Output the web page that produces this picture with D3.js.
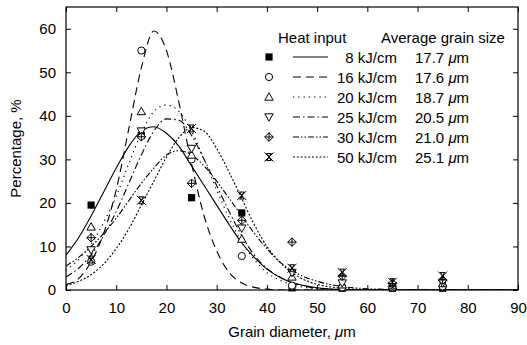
<!DOCTYPE html>
<html>
<head>
<meta charset="utf-8">
<script src="https://cdn.jsdelivr.net/npm/d3@7"></script>
<style>
  body { margin: 0; background: #fff; }
  svg { display: block; font-family: "Liberation Sans", Arial, sans-serif; }
  .axis path, .axis line { stroke: #000; }
  .axis text { font-size: 15px; fill: #000; font-family: "Liberation Sans", Arial, sans-serif; }
  .label { font-size: 15px; fill: #000; }
  .fit { fill: none; stroke: #000; stroke-width: 1.1; }
</style>
</head>
<body>
<svg id="chart" width="527" height="345"></svg>
<script>
// measured grain size distributions (%), by grain diameter class
var diameters = [5, 15, 25, 35, 45, 55, 65, 75];
var pct8  = [19.5, 35.5, 21.2, 17.7, 0.5, 0.4, 0.4, 0.4];
var pct16 = [6.5, 55.0, 30.0, 7.8, 1.0, 0.6, 0.6, 0.8];
var pct20 = [14.5, 41.0, 31.0, 11.7, 3.0, 1.2, 1.0, 1.5];
var pct25 = [9.2, 36.5, 32.5, 14.2, 4.0, 1.6, 1.0, 1.6];
var pct30 = [12.0, 35.2, 24.5, 16.0, 11.0, 3.2, 1.5, 2.3];
var pct50 = [7.0, 20.6, 37.1, 21.7, 5.0, 4.0, 1.8, 3.2];

// fitted curves at these diameters
var fitX   = [0, 2.5, 5, 7.5, 10, 12.5, 15, 17.5, 20, 22.5, 25, 27.5, 30, 32.5, 35, 37.5, 40, 42.5, 45, 47.5, 50, 55, 60, 70, 90];
var fit8   = [8, 12, 17, 22.5, 28, 33, 36.5, 37.5, 36, 33, 28.5, 24, 19.5, 15, 10.8, 7.5, 4.8, 3, 1.7, 1, 0.5, 0.1, 0, 0, 0];
var fit16  = [1.3, 2.6, 6.5, 13, 23, 37, 51, 59.5, 55, 43, 29, 17, 9, 4, 1.6, 0.6, 0.2, 0, 0, 0, 0, 0, 0, 0, 0];
var fit20  = [4.5, 7, 10.5, 15.5, 21.5, 29, 36, 41, 42.5, 41, 36.5, 30, 23, 16.5, 11, 7, 4, 2.3, 1.2, 0.6, 0.3, 0.1, 0, 0, 0];
var fit25  = [3, 5, 8, 12.5, 18, 24.5, 31, 36.5, 39.3, 39, 35.5, 30, 24, 18, 12.5, 8, 5, 3, 1.7, 0.9, 0.4, 0.1, 0, 0, 0];
var fit30  = [5.5, 7.5, 10, 13, 16.5, 20.5, 24.5, 28, 31, 32, 31, 28.5, 25, 21, 17, 13, 9.5, 6.5, 4.5, 3, 2, 0.8, 0.3, 0, 0];
var fit50  = [1, 2, 3.5, 6, 9.5, 14, 19.5, 25, 30.5, 35, 37.3, 36.5, 32.5, 27, 21, 15, 10, 6.5, 4, 2.3, 1.3, 0.4, 0.1, 0, 0];

var heatInputs = ["8 kJ/cm", "16 kJ/cm", "20 kJ/cm", "25 kJ/cm", "30 kJ/cm", "50 kJ/cm"];
var grainSizes = ["17.7", "17.6", "18.7", "20.5", "21.0", "25.1"];
var xTicks = [0, 10, 20, 30, 40, 50, 60, 70, 80, 90];
var yTicks = [0, 10, 20, 30, 40, 50, 60];

var series = [
  { pts: pct8,  fit: fit8,  mark: "square",   dash: null },
  { pts: pct16, fit: fit16, mark: "circle",   dash: "8,5" },
  { pts: pct20, fit: fit20, mark: "triUp",    dash: "1.3,4" },
  { pts: pct25, fit: fit25, mark: "triDown",  dash: "7,3,1.5,3" },
  { pts: pct30, fit: fit30, mark: "diamPlus", dash: "6,2,1.5,2,1.5,2" },
  { pts: pct50, fit: fit50, mark: "bowX",     dash: "2,1.8" }
];

var margin = { top: 7, right: 9, bottom: 55, left: 66 };
var svg = d3.select("#chart");
var width = 527 - margin.left - margin.right;
var height = 345 - margin.top - margin.bottom;
var g = svg.append("g").attr("transform", "translate(" + margin.left + "," + margin.top + ")");

var x = d3.scaleLinear().domain([0, 90]).range([0, width]);
var y = d3.scaleLinear().domain([0, 65]).range([height, 0]);

// axes, ticks inside on all four sides
g.append("g").attr("class", "axis")
  .attr("transform", "translate(0," + height + ")")
  .call(d3.axisBottom(x).tickValues(xTicks).tickSizeInner(-5).tickSizeOuter(0).tickPadding(12));
g.append("g").attr("class", "axis")
  .call(d3.axisTop(x).tickValues(xTicks).tickSizeInner(-5).tickSizeOuter(0).tickFormat(""));
g.append("g").attr("class", "axis")
  .call(d3.axisLeft(y).tickValues(yTicks).tickSizeInner(-5).tickSizeOuter(0).tickPadding(10));
g.append("g").attr("class", "axis")
  .attr("transform", "translate(" + width + ",0)")
  .call(d3.axisRight(y).tickValues(yTicks).tickSizeInner(-5).tickSizeOuter(0).tickFormat(""));
g.selectAll(".axis path").remove();
g.append("rect").attr("width", width).attr("height", height)
  .attr("fill", "none").attr("stroke", "#000").attr("stroke-width", 1.2);

// axis titles
var xt = svg.append("text").attr("class", "label")
  .attr("x", margin.left + width / 2).attr("y", 337).attr("text-anchor", "middle");
xt.append("tspan").text("Grain diameter, ");
xt.append("tspan").attr("font-style", "italic").text("\u03bc");
xt.append("tspan").text("m");
svg.append("text").attr("class", "label")
  .attr("transform", "translate(21," + (margin.top + height / 2) + ") rotate(-90)")
  .attr("text-anchor", "middle").text("Percentage, %");

// fitted curves
var line = d3.line()
  .x(function (d) { return x(d[0]) })
  .y(function (d) { return y(d[1]) })
  .curve(d3.curveMonotoneX);

g.append("defs").append("clipPath").attr("id", "clip")
  .append("rect").attr("width", width).attr("height", height);

g.append("g").attr("clip-path", "url(#clip)")
  .selectAll("path").data(series).enter()
  .append("path")
  .attr("class", "fit")
  .attr("stroke-dasharray", function (d) { return d.dash })
  .attr("d", function (d) { return line(fitX.map(function (v, i) { return [v, d.fit[i]] })) });

// marker shapes
function drawMark(sel, kind) {
  var s = 3.6;
  if (kind === "square") {
    sel.append("rect").attr("x", -s).attr("y", -s).attr("width", 2 * s).attr("height", 2 * s).attr("fill", "#000");
  } else if (kind === "circle") {
    sel.append("circle").attr("r", s).attr("fill", "#fff").attr("stroke", "#000");
  } else if (kind === "triUp") {
    sel.append("path").attr("d", "M0,-4.2L4.2,3.2L-4.2,3.2Z").attr("fill", "#fff").attr("stroke", "#000");
  } else if (kind === "triDown") {
    sel.append("path").attr("d", "M0,4.2L4.2,-3.2L-4.2,-3.2Z").attr("fill", "#fff").attr("stroke", "#000");
  } else if (kind === "diamPlus") {
    sel.append("path").attr("d", "M0,-4.3L4.3,0L0,4.3L-4.3,0Z M0,-4.3V4.3 M-4.3,0H4.3")
      .attr("fill", "#fff").attr("stroke", "#000");
  } else if (kind === "bowX") {
    sel.append("path").attr("d", "M-4.5,-4.5L4.5,4.5 M4.5,-4.5L-4.5,4.5 M-2.5,-3.5H2.5 M-2.5,3.5H2.5 M-2,-3.5L2,3.5 M2,-3.5L-2,3.5")
      .attr("fill", "none").attr("stroke", "#000");
  }
}

series.forEach(function (s) {
  g.append("g").selectAll("g").data(s.pts).enter()
    .append("g")
    .attr("transform", function (d, i) { return "translate(" + x(diameters[i]) + "," + y(d) + ")" })
    .each(function () { drawMark(d3.select(this), s.mark) });
});

// legend
var lg = svg.append("g").attr("transform", "translate(269,0)");
lg.append("text").attr("class", "label").attr("x", 9).attr("y", 43).text("Heat input");
lg.append("text").attr("class", "label").attr("x", 112).attr("y", 43).text("Average grain size");
series.forEach(function (s, i) {
  var row = lg.append("g").attr("transform", "translate(0," + (57 + i * 20) + ")");
  drawMark(row.append("g"), s.mark);
  row.append("line").attr("class", "fit").attr("x1", 24).attr("x2", 59)
    .attr("stroke-dasharray", s.dash);
  row.append("text").attr("class", "label").attr("x", 128).attr("y", 5.5)
    .attr("text-anchor", "end").text(heatInputs[i]);
  var t = row.append("text").attr("class", "label").attr("x", 146).attr("y", 5.5);
  t.append("tspan").text(grainSizes[i] + " ");
  t.append("tspan").attr("font-style", "italic").text("\u03bc");
  t.append("tspan").text("m");
});
</script>
</body>
</html>
